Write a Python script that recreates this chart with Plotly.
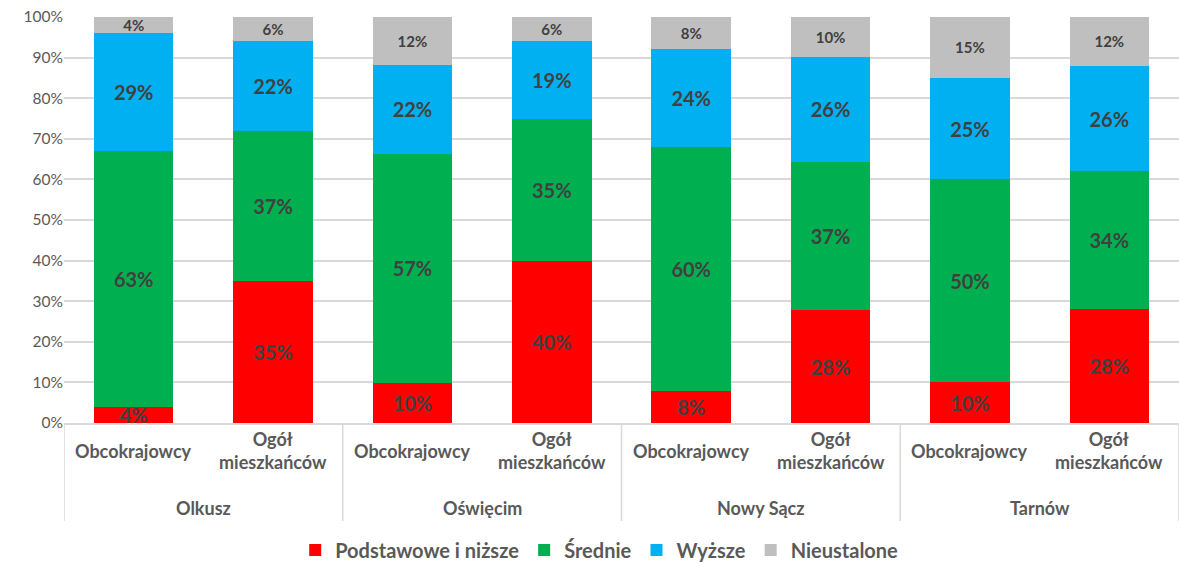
import plotly.graph_objects as go

# Regions, each split into two population groups
regions = ["Olkusz", "Oświęcim", "Nowy Sącz", "Tarnów"]
groups = ["Obcokrajowcy", "Ogół<br>mieszkańców"]

# Share of each education level (%), bars ordered region by region
podstawowe = [4, 35, 10, 40, 8, 28, 10, 28]
srednie = [63, 37, 57, 35, 60, 37, 50, 34]
wyzsze = [29, 22, 22, 19, 24, 26, 25, 26]
nieustalone = [4, 6, 12, 6, 8, 10, 15, 12]

series = [
    ("Podstawowe i niższe", podstawowe, "#FF0000", 20),
    ("Średnie", srednie, "#00B050", 20),
    ("Wyższe", wyzsze, "#00B0F0", 20),
    ("Nieustalone", nieustalone, "#BFBFBF", 15),
]

FONT = "Lato"
TEXT_GREY = "#595959"
LINE_GREY = "#D9D9D9"

n_groups = len(groups)
positions = list(range(len(regions) * n_groups))
group_labels = [groups[i % n_groups] for i in positions]

fig = go.Figure()
for name, vals, color, tsize in series:
    fig.add_trace(go.Bar(
        name=name,
        x=positions,
        y=vals,
        marker=dict(color=color, line=dict(width=0)),
        text=[f"{v}%" for v in vals],
        textposition="inside",
        insidetextanchor="middle",
        constraintext="none",
        textfont=dict(family=FONT, size=tsize, color="#404040", weight="bold"),
        customdata=group_labels,
        hovertemplate="%{customdata}: %{text}<extra>" + name + "</extra>",
    ))

# Paper-y helpers for the two-level category labels below the plot
PLOT_TOP, PLOT_BOTTOM = 17, 423
plot_h = PLOT_BOTTOM - PLOT_TOP


def py(pixel_y):
    return (PLOT_BOTTOM - pixel_y) / plot_h


annotations = []
for pos in positions:
    annotations.append(dict(
        x=pos, y=py(451), xref="x", yref="paper",
        text=group_labels[pos], showarrow=False,
        xanchor="center", yanchor="middle",
        font=dict(family=FONT, size=18, color=TEXT_GREY, weight="bold"),
    ))
for r, region in enumerate(regions):
    annotations.append(dict(
        x=r * n_groups + (n_groups - 1) / 2, y=py(508), xref="x", yref="paper",
        text=region, showarrow=False,
        xanchor="center", yanchor="middle",
        font=dict(family=FONT, size=18, color=TEXT_GREY, weight="bold"),
    ))

shapes = []
for r in range(len(regions) + 1):
    xd = r * n_groups - 0.5
    shapes.append(dict(
        type="line", xref="x", yref="paper",
        x0=xd, x1=xd, y0=0, y1=py(521),
        line=dict(color=LINE_GREY, width=1.5),
    ))

fig.update_layout(
    barmode="stack",
    barnorm="percent",
    bargap=0.43,
    width=1179,
    height=563,
    margin=dict(l=64, r=0, t=PLOT_TOP, b=563 - PLOT_BOTTOM, autoexpand=False),
    paper_bgcolor="white",
    plot_bgcolor="white",
    font=dict(family=FONT, color=TEXT_GREY),
    legend=dict(
        orientation="h",
        x=0.48, xanchor="center",
        y=py(550), yanchor="middle",
        font=dict(family=FONT, size=20, color=TEXT_GREY, weight="bold"),
        itemwidth=30,
        traceorder="normal",
    ),
    showlegend=True,
    annotations=annotations,
    shapes=shapes,
)

fig.update_yaxes(
    range=[0, 100],
    dtick=10,
    ticksuffix="%",
    showgrid=True,
    gridcolor=LINE_GREY,
    gridwidth=1.5,
    zeroline=False,
    tickfont=dict(family=FONT, size=15.5, color=TEXT_GREY),
    ticks="",
    automargin=False,
)

fig.update_xaxes(
    range=[-0.5, len(positions) - 0.5],
    showticklabels=False,
    showgrid=False,
    zeroline=False,
    showline=True,
    linecolor=LINE_GREY,
    linewidth=1.5,
    ticks="",
    automargin=False,
)

fig.write_html("out.html")
